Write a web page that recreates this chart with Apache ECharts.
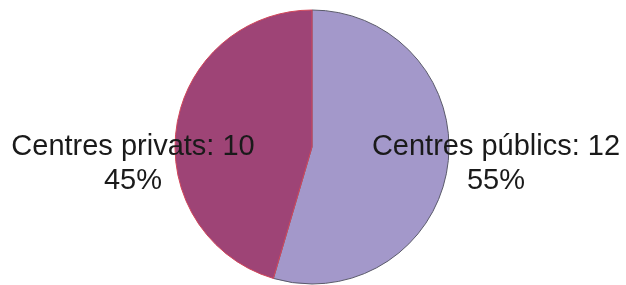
<!DOCTYPE html>
<html>
<head>
<meta charset="utf-8">
<script src="https://cdn.jsdelivr.net/npm/echarts@6/dist/echarts.min.js"></script>
<style>
  html, body { margin: 0; padding: 0; background: #fff; }
  #chart { width: 626px; height: 285px; }
</style>
</head>
<body>
<div id="chart"></div>
<script>
// dades del gràfic
var categories = ['Centres públics', 'Centres privats'];
var values = [12, 10];
var colors = ['#A398CA', '#9E4476'];
var borders = ['#5a5a6a', '#D2475A'];
// posicio de les etiquetes
var labelPos = [[496, 164], [133, 164]];

var chart = echarts.init(document.getElementById('chart'));
var data = categories.map(function (name, i) {
  return {
    name: name,
    value: values[i],
    itemStyle: { color: colors[i], borderColor: borders[i], borderWidth: 1 }
  };
});
var option = {
  animation: false,
  series: [{
    type: 'pie',
    center: [312, 147],
    radius: 137,
    startAngle: 90,
    clockwise: true,
    data: data,
    label: {
      show: true,
      position: 'inside',
      formatter: function (p) {
        return p.name + ': ' + p.value + '\n' + Math.round(p.percent) + '%';
      },
      fontFamily: 'Liberation Sans, Arial, sans-serif',
      fontSize: 29,
      lineHeight: 34,
      color: '#1a1a1a',
      align: 'center'
    },
    labelLine: { show: false },
    labelLayout: function (params) {
      var p = labelPos[params.dataIndex];
      return { x: p[0], y: p[1], align: 'center', verticalAlign: 'middle' };
    },
    emphasis: { disabled: true }
  }]
};
chart.setOption(option, true);
</script>
</body>
</html>
